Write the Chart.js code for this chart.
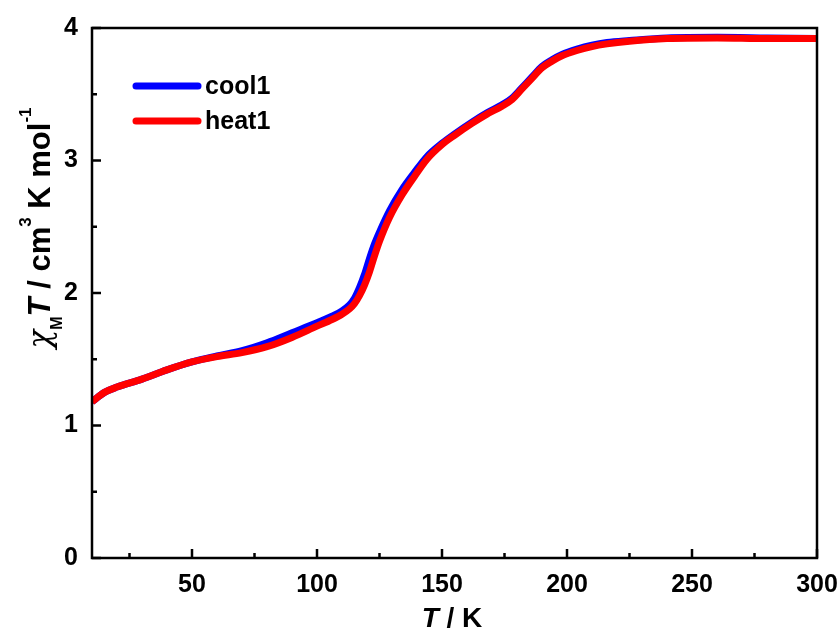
<!DOCTYPE html>
<html>
<head>
<meta charset="utf-8">
<script src="https://cdn.jsdelivr.net/npm/chart.js@4.4.1/dist/chart.umd.min.js"></script>
<style>
html,body{margin:0;padding:0;background:#fff;}
#wrap{position:relative;width:840px;height:632px;}
</style>
</head>
<body>
<div id="wrap"><canvas id="c" width="840" height="632"></canvas></div>
<script>
// ---- data ----
const coolT   = [10,15,20,30,40,50,60,70,80,90,100,106,110,113,115,117,119,121,123,125,129,134,139,144,150,155,162,168,174,178,182,186,190,194,198,204,210,216,225,240,260,280,300];
const coolChi = [1.18,1.25,1.29,1.35,1.42,1.48,1.525,1.565,1.625,1.70,1.775,1.825,1.865,1.91,1.96,2.04,2.14,2.26,2.37,2.46,2.62,2.78,2.91,3.03,3.13,3.20,3.29,3.36,3.42,3.47,3.55,3.63,3.71,3.76,3.80,3.84,3.87,3.89,3.905,3.925,3.93,3.925,3.92];
const heatT   = [10,15,20,30,40,50,60,70,80,90,100,106,110,113,115,117,119,121,123,125,129,134,139,144,150,155,162,168,174,178,182,186,190,194,198,204,210,216,225,240,260,280,300];
const heatChi = [1.18,1.25,1.29,1.35,1.42,1.48,1.52,1.55,1.595,1.665,1.75,1.80,1.84,1.88,1.92,1.98,2.06,2.16,2.28,2.39,2.57,2.74,2.88,3.01,3.12,3.19,3.28,3.35,3.41,3.46,3.54,3.62,3.70,3.75,3.79,3.83,3.86,3.88,3.90,3.92,3.925,3.92,3.92];
const xTicks = [50,100,150,200,250,300];
const xMinor = [25,75,125,175,225,275];
const yTicks = [0,1,2,3,4];
const yMinor = [0.5,1.5,2.5,3.5];
const seriesLabels = ['cool1','heat1'];
const seriesColors = ['#0000ff','#ff0000'];

const toPts = (xs, ys) => xs.map((x, i) => ({x: x, y: ys[i]}));
const FONT = '"Liberation Sans", Arial, sans-serif';

const framePlugin = {
  id: 'frame',
  afterDraw(chart) {
    const ctx = chart.ctx, a = chart.chartArea;
    const xs = chart.scales.x, ys = chart.scales.y;
    ctx.save();
    ctx.strokeStyle = '#000';
    ctx.lineWidth = 2.5;
    ctx.strokeRect(a.left, a.top, a.right - a.left, a.bottom - a.top);
    ctx.beginPath();
    xTicks.forEach(v => { const p = xs.getPixelForValue(v); ctx.moveTo(p, a.bottom); ctx.lineTo(p, a.bottom - 9); });
    xMinor.forEach(v => { const p = xs.getPixelForValue(v); ctx.moveTo(p, a.bottom); ctx.lineTo(p, a.bottom - 5); });
    yTicks.forEach(v => { const p = ys.getPixelForValue(v); ctx.moveTo(a.left, p); ctx.lineTo(a.left + 9, p); });
    yMinor.forEach(v => { const p = ys.getPixelForValue(v); ctx.moveTo(a.left, p); ctx.lineTo(a.left + 5, p); });
    ctx.stroke();

    // legend
    const lx0 = 136, lx1 = 198, ly = [86, 121];
    chart.data.datasets.forEach((ds) => {
      const idx = seriesLabels.indexOf(ds.label);
      ctx.strokeStyle = ds.borderColor;
      ctx.lineWidth = 7;
      ctx.lineCap = 'round';
      ctx.beginPath();
      ctx.moveTo(lx0, ly[idx]); ctx.lineTo(lx1, ly[idx]);
      ctx.stroke();
      ctx.fillStyle = '#000';
      ctx.font = 'bold 25px ' + FONT;
      ctx.textBaseline = 'middle';
      ctx.textAlign = 'left';
      ctx.fillText(ds.label, 205, ly[idx] + 1);
    });
    ctx.lineCap = 'butt';

    // x title: T / K
    ctx.fillStyle = '#000';
    ctx.textBaseline = 'alphabetic';
    const xsegs = [
      {t: 'T', f: 'italic bold 28px ' + FONT},
      {t: ' / K', f: 'bold 28px ' + FONT}
    ];
    let tw = 0;
    xsegs.forEach(s => { ctx.font = s.f; s.w = ctx.measureText(s.t).width; tw += s.w; });
    let cx = 452 - tw / 2;
    xsegs.forEach(s => { ctx.font = s.f; ctx.fillText(s.t, cx, 627); cx += s.w; });

    // y title (rotated)
    ctx.save();
    ctx.translate(50, 228);
    ctx.rotate(-Math.PI / 2);
    const ysegs = [
      {t: '\u03C7', f: 'italic 31px "DejaVu Serif", serif', dy: 0},
      {t: 'M', f: 'bold 16px ' + FONT, dy: 12},
      {t: 'T', f: 'italic bold 31px ' + FONT, dy: 0},
      {t: ' / cm', f: 'bold 31px ' + FONT, dy: 0},
      {t: '3', f: 'bold 17px ' + FONT, dy: -19},
      {t: ' K mol', f: 'bold 31px ' + FONT, dy: 0},
      {t: '-1', f: 'bold 17px ' + FONT, dy: -19}
    ];
    tw = 0;
    ysegs.forEach(s => { ctx.font = s.f; s.w = ctx.measureText(s.t).width; tw += s.w; });
    cx = -tw / 2;
    ysegs.forEach(s => { ctx.font = s.f; ctx.fillText(s.t, cx, s.dy); cx += s.w; });
    ctx.restore();
    ctx.restore();
  }
};

new Chart(document.getElementById('c'), {
  type: 'scatter',
  data: {
    datasets: [
      {label: seriesLabels[0], data: toPts(coolT, coolChi), borderColor: seriesColors[0], backgroundColor: seriesColors[0],
       showLine: true, pointRadius: 0, borderWidth: 7, cubicInterpolationMode: 'monotone', order: 1},
      {label: seriesLabels[1], data: toPts(heatT, heatChi), borderColor: seriesColors[1], backgroundColor: seriesColors[1],
       showLine: true, pointRadius: 0, borderWidth: 7, cubicInterpolationMode: 'monotone', order: 0}
    ]
  },
  options: {
    responsive: false,
    animation: false,
    devicePixelRatio: 1,
    layout: {padding: {left: 0, top: 28, right: 23, bottom: 0}},
    plugins: {legend: {display: false}, tooltip: {enabled: false}},
    scales: {
      x: {
        type: 'linear', min: 10, max: 300,
        afterBuildTicks: s => { s.ticks = xTicks.map(v => ({value: v})); },
        afterFit: s => { s.height = 74; s.paddingRight = 0; s.paddingLeft = 0; },
        grid: {display: false, drawTicks: false},
        border: {display: false},
        ticks: {color: '#000', padding: 12, maxRotation: 0, font: {family: FONT, size: 25, weight: 'bold'}}
      },
      y: {
        type: 'linear', min: 0, max: 4,
        afterBuildTicks: s => { s.ticks = yTicks.map(v => ({value: v})); },
        afterFit: s => { s.width = 92; s.paddingTop = 0; s.paddingBottom = 0; },
        grid: {display: false, drawTicks: false},
        border: {display: false},
        ticks: {color: '#000', padding: 14, font: {family: FONT, size: 25, weight: 'bold'}}
      }
    }
  },
  plugins: [framePlugin]
});
</script>
</body>
</html>
